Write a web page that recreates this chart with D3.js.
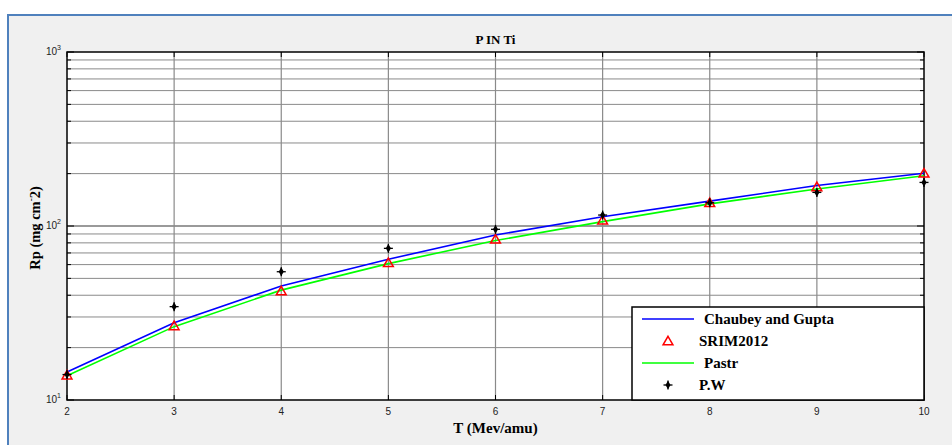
<!DOCTYPE html>
<html>
<head>
<meta charset="utf-8">
<script src="https://cdn.jsdelivr.net/npm/d3@7"></script>
<style>
  body { margin: 0; background: #fff; }
  svg { display: block; }
</style>
</head>
<body>
<div id="chart"></div>
<script>
// energies (MeV/amu)
const energies = [2, 3, 4, 5, 6, 7, 8, 9, 10];
// ranges Rp (mg cm^-2)
const chaubeyGupta = [14.5, 27.8, 45.2, 64.4, 88.8, 113, 139, 171, 201];
const srim2012 = [13.9, 26.7, 42.3, 61.5, 83.9, 108, 136, 168, 201];
const pastr = [13.8, 26.4, 42.8, 60.8, 82.5, 106, 134, 163, 194.5];
const pw = [14.0, 34.4, 54.6, 74.4, 95.7, 115.6, 136, 156, 178];
const xTicks = [2, 3, 4, 5, 6, 7, 8, 9, 10];
const yDecades = [10, 100, 1000];

const width = 952, height = 445;
const margin = {left: 67, right: 28, top: 52, bottom: 45};

const svg = d3.select("#chart").append("svg")
    .attr("width", width)
    .attr("height", height);

// figure background + blue frame
svg.append("rect")
    .attr("x", 8).attr("y", 15)
    .attr("width", width + 10).attr("height", height + 10)
    .attr("fill", "#f0f0f0")
    .attr("stroke", "#4f81bd")
    .attr("stroke-width", 2);

const x = d3.scaleLinear().domain([2, 10]).range([margin.left, width - margin.right]);
const y = d3.scaleLog().domain([10, 1000]).range([height - margin.bottom, margin.top]);

const x0 = x.range()[0], x1 = x.range()[1];
const y0 = y.range()[0], y1 = y.range()[1];

svg.append("rect")
    .attr("x", x0).attr("y", y1)
    .attr("width", x1 - x0).attr("height", y0 - y1)
    .attr("fill", "#fff");

// minor values for log grid
let minor = [];
for (let d = 10; d < 1000; d *= 10) {
    for (let k = 2; k <= 9; k++) minor.push(d * k);
}

const grid = svg.append("g");
grid.selectAll(".hm").data(minor).join("line")
    .attr("x1", x0).attr("x2", x1)
    .attr("y1", d => y(d)).attr("y2", d => y(d))
    .attr("stroke", "#8a8a8a").attr("stroke-width", 1);
grid.selectAll(".hM").data([100]).join("line")
    .attr("x1", x0).attr("x2", x1)
    .attr("y1", d => y(d)).attr("y2", d => y(d))
    .attr("stroke", "#9a9a9a").attr("stroke-width", 2.2);
grid.selectAll(".v").data(xTicks.slice(1, -1)).join("line")
    .attr("x1", d => x(d)).attr("x2", d => x(d))
    .attr("y1", y1).attr("y2", y0)
    .attr("stroke", "#8a8a8a").attr("stroke-width", 1.2);

// ticks (inside)
const ticks = svg.append("g").attr("stroke", "#000").attr("stroke-width", 1);
xTicks.forEach(t => {
    ticks.append("line").attr("x1", x(t)).attr("x2", x(t)).attr("y1", y0).attr("y2", y0 - 5);
    ticks.append("line").attr("x1", x(t)).attr("x2", x(t)).attr("y1", y1).attr("y2", y1 + 5);
});
minor.concat(yDecades).forEach(t => {
    const len = yDecades.includes(t) ? 7 : 4;
    ticks.append("line").attr("x1", x0).attr("x2", x0 + len).attr("y1", y(t)).attr("y2", y(t));
    ticks.append("line").attr("x1", x1).attr("x2", x1 - len).attr("y1", y(t)).attr("y2", y(t));
});

// axis box
svg.append("rect")
    .attr("x", x0).attr("y", y1)
    .attr("width", x1 - x0).attr("height", y0 - y1)
    .attr("fill", "none").attr("stroke", "#000").attr("stroke-width", 1.5);

// tick labels
svg.append("g").selectAll("text").data(xTicks).join("text")
    .attr("x", d => x(d)).attr("y", y0 + 15)
    .attr("text-anchor", "middle")
    .attr("font-family", "Liberation Sans, Arial, sans-serif")
    .attr("font-size", 10)
    .attr("fill", "#222")
    .text(d => d);

const yl = svg.append("g").selectAll("text").data(yDecades).join("text")
    .attr("x", x0 - 6).attr("y", d => y(d) + 3)
    .attr("text-anchor", "end")
    .attr("font-family", "Liberation Sans, Arial, sans-serif")
    .attr("font-size", 10)
    .attr("fill", "#222");
yl.append("tspan").text("10");
yl.append("tspan").attr("dy", -5).attr("font-size", 7).text(d => Math.round(Math.log10(d)));

// title + axis labels
const serif = "Liberation Serif, Times New Roman, serif";
svg.append("text")
    .attr("x", (x0 + x1) / 2).attr("y", y1 - 8)
    .attr("text-anchor", "middle")
    .attr("font-family", serif).attr("font-weight", "bold").attr("font-size", 13)
    .text("P IN Ti");

svg.append("text")
    .attr("x", (x0 + x1) / 2).attr("y", y0 + 33)
    .attr("text-anchor", "middle")
    .attr("font-family", serif).attr("font-weight", "bold").attr("font-size", 15)
    .text("T (Mev/amu)");

const ylab = svg.append("text")
    .attr("transform", "translate(40," + 228 + ") rotate(-90)")
    .attr("text-anchor", "middle")
    .attr("font-family", serif).attr("font-weight", "bold").attr("font-size", 14.5);
ylab.append("tspan").text("Rp  (mg cm");
ylab.append("tspan").attr("dy", -6).attr("font-size", 9).text("-");
ylab.append("tspan").attr("dy", 6).text("2)");

// data
const plot = svg.append("g");
const line = d3.line().x(d => x(d[0])).y(d => y(d[1]));

plot.append("path")
    .datum(energies.map((e, i) => [e, pastr[i]]))
    .attr("d", line).attr("fill", "none")
    .attr("stroke", "#00ff00").attr("stroke-width", 1.6);
plot.append("path")
    .datum(energies.map((e, i) => [e, chaubeyGupta[i]]))
    .attr("d", line).attr("fill", "none")
    .attr("stroke", "#0000ff").attr("stroke-width", 1.6);

const tri = d3.symbol().type(d3.symbolTriangle).size(42);
plot.selectAll(".tri").data(energies.map((e, i) => [e, srim2012[i]])).join("path")
    .attr("d", tri)
    .attr("transform", d => "translate(" + x(d[0]) + "," + (y(d[1]) + 1) + ")")
    .attr("fill", "none").attr("stroke", "#ff0000").attr("stroke-width", 1.5);

function star(g, cx, cy) {
    g.append("path")
        .attr("d", d3.symbol().type(d3.symbolDiamond).size(22)())
        .attr("transform", "translate(" + cx + "," + cy + ")")
        .attr("fill", "#000");
    g.append("line").attr("x1", cx - 4.5).attr("x2", cx + 4.5).attr("y1", cy).attr("y2", cy)
        .attr("stroke", "#000").attr("stroke-width", 1.3);
    g.append("line").attr("x1", cx).attr("x2", cx).attr("y1", cy - 4.5).attr("y2", cy + 4.5)
        .attr("stroke", "#000").attr("stroke-width", 1.3);
}
energies.forEach((e, i) => star(plot, x(e), y(pw[i])));

// legend
const lg = svg.append("g");
const lx = 632, ly = 307;
lg.append("rect")
    .attr("x", lx).attr("y", ly)
    .attr("width", x1 - lx).attr("height", y0 - ly)
    .attr("fill", "#fff").attr("stroke", "#000").attr("stroke-width", 1.5);
const items = [
    {name: "Chaubey and Gupta", type: "line", color: "#0000ff", tx: 704},
    {name: "SRIM2012", type: "tri", color: "#ff0000", tx: 699},
    {name: "Pastr", type: "line", color: "#00ff00", tx: 704},
    {name: "P.W", type: "star", color: "#000", tx: 699}
];
items.forEach((it, i) => {
    const cy = ly + 12 + i * 22;
    if (it.type === "line") {
        lg.append("line").attr("x1", 642).attr("x2", 694).attr("y1", cy).attr("y2", cy)
            .attr("stroke", it.color).attr("stroke-width", 1.6);
    } else if (it.type === "tri") {
        lg.append("path").attr("d", tri)
            .attr("transform", "translate(668," + (cy + 1) + ")")
            .attr("fill", "none").attr("stroke", it.color).attr("stroke-width", 1.5);
    } else {
        star(lg, 668, cy);
    }
    lg.append("text")
        .attr("x", it.tx).attr("y", cy + 5)
        .attr("font-family", serif).attr("font-weight", "bold").attr("font-size", 15)
        .text(it.name);
});
</script>
</body>
</html>
